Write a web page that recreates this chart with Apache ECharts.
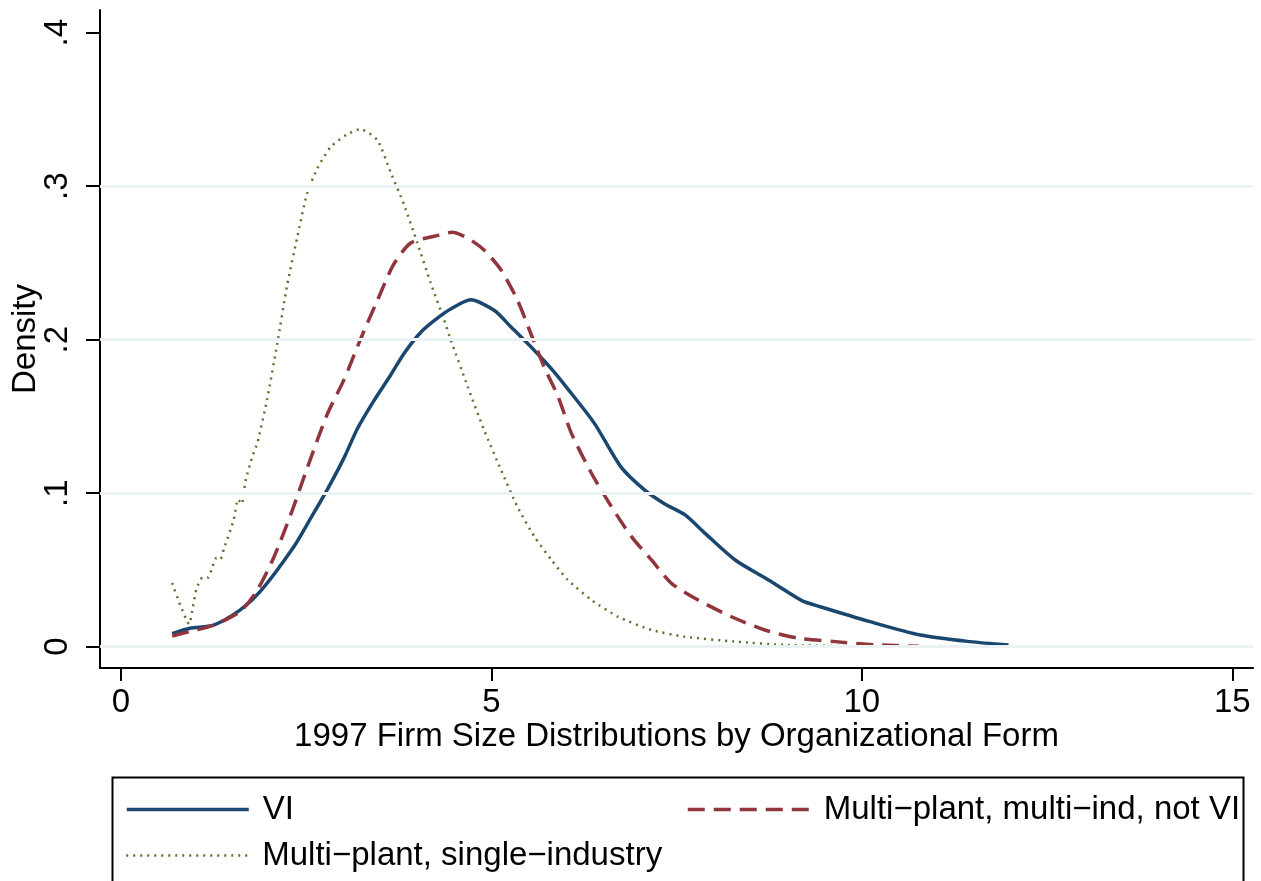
<!DOCTYPE html>
<html><head><meta charset="utf-8">
<script src="https://cdn.jsdelivr.net/npm/echarts@6/dist/echarts.min.js"></script>
<style>html,body{margin:0;padding:0;background:#fff}#c{width:1261px;height:881px}</style>
</head><body><div id="c"></div>
<script>
// ---- data ----
const seriesNames = ['VI', 'Multi\u2212plant, multi\u2212ind, not VI', 'Multi\u2212plant, single\u2212industry'];

const viX = [0.69,0.93,1.25,1.61,1.88,2.33,2.56,2.78,3.01,3.19,3.41,3.64,3.82,4.05,4.27,4.45,4.72,5.04,5.26,5.58,5.81,6.03,6.39,6.75,7.07,7.34,7.61,7.88,8.29,8.74,9.19,9.44,10.11,10.79,11.46,11.98];
const viY = [0.0085,0.012,0.0141,0.024,0.036,0.065,0.0837,0.102,0.123,0.142,0.160,0.177,0.191,0.205,0.214,0.220,0.226,0.219,0.2085,0.193,0.181,0.168,0.1455,0.117,0.102,0.093,0.086,0.074,0.0565,0.0435,0.030,0.026,0.0163,0.0076,0.0033,0.0011];

const multiX = [0.69,0.98,1.25,1.61,1.84,2.06,2.29,2.51,2.78,3.01,3.23,3.46,3.68,3.91,4.23,4.47,4.68,4.90,5.13,5.35,5.53,5.71,5.90,6.08,6.35,6.62,6.89,7.16,7.43,7.79,8.24,8.69,9.14,9.64,10.2,10.77];
const multiY = [0.007,0.0105,0.014,0.023,0.037,0.058,0.086,0.116,0.151,0.174,0.200,0.2256,0.249,0.263,0.2674,0.270,0.2661,0.2584,0.2454,0.2259,0.2042,0.1824,0.1629,0.139,0.113,0.0912,0.0717,0.0565,0.0413,0.0304,0.0195,0.0109,0.0055,0.0033,0.0012,0.0003];

const singleX = [0.69,0.80,0.92,0.97,1.02,1.10,1.18,1.22,1.29,1.34,1.39,1.52,1.58,1.63,1.68,1.78,1.84,1.97,2.11,2.24,2.38,2.51,2.65,2.83,3.05,3.23,3.46,3.64,3.82,4.00,4.18,4.36,4.45,4.68,4.90,5.13,5.35,5.58,5.81,6.03,6.35,6.71,7.16,7.61,8.29,8.96,9.86];
const singleY = [0.0415,0.027,0.0148,0.026,0.038,0.045,0.045,0.050,0.058,0.057,0.064,0.0825,0.096,0.093,0.108,0.125,0.1325,0.1607,0.1977,0.235,0.267,0.295,0.3116,0.3256,0.3337,0.3372,0.330,0.309,0.288,0.263,0.237,0.213,0.200,0.1694,0.1412,0.1151,0.0912,0.0717,0.0565,0.0435,0.0304,0.0195,0.0109,0.0065,0.0033,0.0011,0.0003];

const xTicks = [0, 5, 10, 15];
const yTicks = [0, 0.1, 0.2, 0.3, 0.4];
const yTickLabels = ['0', '.1', '.2', '.3', '.4'];
const gridLines = [0, 0.1, 0.2, 0.3];

const xTitle = '1997 Firm Size Distributions by Organizational Form';
const yTitle = 'Density';

// ---- build ----
const zip = (a, b) => a.map((v, i) => [v, b[i]]);
const FONT = '"Liberation Sans", Arial, sans-serif';
const FS = 33;
const colors = ['#1a476f', '#90353b', '#55752f'];
const lineTypes = ['solid', [17, 9], [2, 5]];
const lineWidths = [3.5, 3.5, 2.5];

const chart = echarts.init(document.getElementById('c'), null, {renderer: 'canvas'});

function legendFor(i, left, top) {
  return {
    data: [seriesNames[i]], left: left, top: top, padding: 0,
    orient: 'horizontal', itemWidth: 122, itemHeight: 24, itemGap: 0,
    selectedMode: false,
    itemStyle: {opacity: 0, borderWidth: 0},
    lineStyle: {color: colors[i], width: lineWidths[i], type: lineTypes[i], opacity: 1},
    textStyle: {fontFamily: FONT, fontSize: FS, color: '#000', padding: [0, 0, 0, 9]}
  };
}

chart.setOption({
  animation: false,
  backgroundColor: '#fff',
  grid: {left: 100, right: 8, top: 10, bottom: 213, containLabel: false, outerBoundsMode: 'none'},
  xAxis: {
    type: 'value',
    min: -0.284, max: 15.28,
    name: xTitle,
    nameLocation: 'middle',
    nameGap: 52,
    nameMoveOverlap: false,
    nameTextStyle: {fontFamily: FONT, fontSize: FS, color: '#000'},
    axisLine: {show: true, onZero: false, lineStyle: {color: '#000', width: 2}},
    axisTick: {show: true, customValues: xTicks, length: 13, lineStyle: {color: '#000', width: 2}},
    axisLabel: {show: true, customValues: xTicks, fontFamily: FONT, fontSize: FS, color: '#000', margin: 18},
    splitLine: {show: false}
  },
  yAxis: {
    type: 'value',
    min: -0.01388, max: 0.4148,
    name: yTitle,
    nameLocation: 'middle',
    nameRotate: 90,
    nameGap: 58,
    nameMoveOverlap: false,
    nameTextStyle: {fontFamily: FONT, fontSize: FS, color: '#000'},
    axisLine: {show: true, onZero: false, lineStyle: {color: '#000', width: 2}},
    axisTick: {show: true, customValues: yTicks, length: 14, lineStyle: {color: '#000', width: 2}},
    axisLabel: {
      show: true, customValues: yTicks, rotate: 90, fontFamily: FONT, fontSize: FS, color: '#000', margin: 26,
      formatter: function (v) {
        let best = 0;
        for (let i = 0; i < yTicks.length; i++) if (Math.abs(yTicks[i] - v) < Math.abs(yTicks[best] - v)) best = i;
        return yTickLabels[best];
      }
    },
    splitLine: {show: false}
  },
  legend: [
    legendFor(0, 125, 793),
    legendFor(1, 686, 793),
    legendFor(2, 125, 839)
  ],
  graphic: [{
    type: 'rect', left: 110, top: 775, silent: true,
    shape: {width: 1131, height: 130},
    style: {fill: 'none', stroke: '#000', lineWidth: 2}
  }],
  series: [
    {
      name: '_grid', type: 'line', data: [], z: 1, silent: true,
      markLine: {
        silent: true, symbol: ['none', 'none'], label: {show: false},
        lineStyle: {color: '#eaf2f3', width: 3, type: 'solid'},
        data: gridLines.map(v => ({yAxis: v}))
      }
    },
    {
      name: seriesNames[0], type: 'line', data: zip(viX, viY), z: 3,
      showSymbol: false, symbol: 'none', smooth: 0.25,
      lineStyle: {color: colors[0], width: lineWidths[0], type: lineTypes[0]}, itemStyle: {color: colors[0]}
    },
    {
      name: seriesNames[1], type: 'line', data: zip(multiX, multiY), z: 3,
      showSymbol: false, symbol: 'none', smooth: 0.25,
      lineStyle: {color: colors[1], width: lineWidths[1], type: lineTypes[1]}, itemStyle: {color: colors[1]}
    },
    {
      name: seriesNames[2], type: 'line', data: zip(singleX, singleY), z: 2,
      showSymbol: false, symbol: 'none', smooth: 0.2,
      lineStyle: {color: colors[2], width: lineWidths[2], type: lineTypes[2]}, itemStyle: {color: colors[2]}
    }
  ]
});
</script>
</body></html>
